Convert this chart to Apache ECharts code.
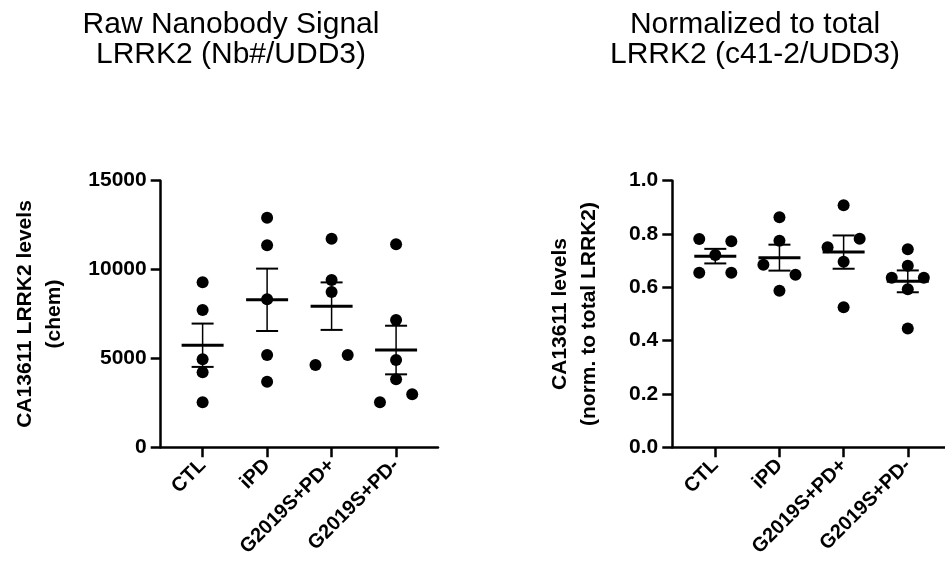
<!DOCTYPE html>
<html>
<head>
<meta charset="utf-8">
<script src="https://cdn.jsdelivr.net/npm/echarts@6/dist/echarts.min.js"></script>
<style>
  html, body { margin: 0; padding: 0; background: #fff; }
  #main { width: 945px; height: 568px; }
</style>
</head>
<body>
<div id="main"></div>
<script>
// groups on the x axis
const categories = ['CTL', 'iPD', 'G2019S+PD+', 'G2019S+PD-'];

// raw nanobody signal, one array per group
const rawCTL = [9283, 7725, 4951, 4220, 2532];
const rawIPD = [12917, 11365, 8326, 5193, 3691];
const rawGSPos = [11736, 9412, 8737, 5193, 4630];
const rawGSNeg = [11421, 7162, 4912, 3826, 2982, 2532];
// horizontal scatter of the dots (in category units)
const rawSpread = [[0, 0, 0, 0, 0], [0, 0, 0, 0, 0], [0, 0, 0, 0.25, -0.25], [0, 0, 0, 0, 0.25, -0.25]];

// normalized to total LRRK2
const normCTL = [0.781, 0.773, 0.721, 0.655, 0.655];
const normIPD = [0.863, 0.775, 0.685, 0.647, 0.587];
const normGSPos = [0.908, 0.782, 0.750, 0.696, 0.525];
const normGSNeg = [0.743, 0.681, 0.636, 0.636, 0.593, 0.446];
const normSpread = [[-0.25, 0.25, 0, -0.25, 0.25], [0, 0, -0.25, 0.25, 0], [0, 0.25, -0.25, 0, 0], [0, 0, -0.25, 0.25, 0, 0]];

const rawTicks = [0, 5000, 10000, 15000];
const normTicks = [0, 0.2, 0.4, 0.6, 0.8, 1.0];

const rawGroups = [rawCTL, rawIPD, rawGSPos, rawGSNeg];
const normGroups = [normCTL, normIPD, normGSPos, normGSNeg];

function meanSem(arr) {
  const n = arr.length;
  const m = arr.reduce((a, b) => a + b, 0) / n;
  const sd = Math.sqrt(arr.reduce((a, b) => a + (b - m) * (b - m), 0) / (n - 1));
  return [m, sd / Math.sqrt(n)];
}

function dots(groups, spread) {
  const out = [];
  groups.forEach((g, i) => g.forEach((v, j) => out.push([i + spread[i][j], v])));
  return out;
}

function summary(groups) {
  return groups.map((g, i) => {
    const ms = meanSem(g);
    return [i, ms[0], ms[1]];
  });
}

function renderBars(params, api) {
  const x = api.value(0), m = api.value(1), s = api.value(2);
  const c = api.coord([x, m]);
  const t = api.coord([x, m + s]);
  const b = api.coord([x, m - s]);
  return {
    type: 'group',
    children: [
      { type: 'line', shape: { x1: c[0], y1: t[1], x2: c[0], y2: b[1] }, style: { stroke: '#000', lineWidth: 1.5 } },
      { type: 'line', shape: { x1: c[0] - 11, y1: t[1], x2: c[0] + 11, y2: t[1] }, style: { stroke: '#000', lineWidth: 2 } },
      { type: 'line', shape: { x1: c[0] - 11, y1: b[1], x2: c[0] + 11, y2: b[1] }, style: { stroke: '#000', lineWidth: 2 } },
      { type: 'line', shape: { x1: c[0] - 21, y1: c[1], x2: c[0] + 21, y2: c[1] }, style: { stroke: '#000', lineWidth: 3 } }
    ]
  };
}

const font = 'Liberation Sans, Arial, sans-serif';
const axisLineStyle = { color: '#000', width: 2.5 };

function xAxisFor(gridIndex, min, max) {
  return {
    type: 'value', gridIndex: gridIndex, min: min, max: max,
    splitLine: { show: false },
    axisLine: { onZero: false, lineStyle: axisLineStyle },
    axisTick: { length: 10, lineStyle: axisLineStyle, customValues: [0, 1, 2, 3] },
    axisLabel: {
      customValues: [0, 1, 2, 3], rotate: 45, margin: 15,
      formatter: v => categories[Math.round(v)],
      color: '#000', fontWeight: 'bold', fontSize: 20, fontFamily: font
    }
  };
}

function yAxisFor(gridIndex, ticks, name, gap, fmt) {
  return {
    type: 'value', gridIndex: gridIndex,
    min: ticks[0], max: ticks[ticks.length - 1], interval: ticks[1] - ticks[0],
    name: name, nameLocation: 'middle', nameRotate: 90, nameGap: gap,
    nameTextStyle: { color: '#000', fontWeight: 'bold', fontSize: 21, fontFamily: font, lineHeight: 29 },
    splitLine: { show: false },
    axisLine: { show: true, onZero: false, lineStyle: axisLineStyle },
    axisTick: { show: true, length: 10, lineStyle: axisLineStyle },
    axisLabel: { margin: 14, color: '#000', fontWeight: 'bold', fontSize: 21, fontFamily: font, formatter: fmt }
  };
}

const titleStyle = { color: '#000', fontWeight: 'normal', fontSize: 30, fontFamily: font, lineHeight: 30 };

const option = {
  backgroundColor: '#fff',
  animation: false,
  title: [
    { text: 'Raw Nanobody Signal\nLRRK2 (Nb#/UDD3)', left: 226, top: 5, textAlign: 'center', textStyle: titleStyle },
    { text: 'Normalized to total\nLRRK2 (c41-2/UDD3)', left: 750, top: 5, textAlign: 'center', textStyle: titleStyle }
  ],
  grid: [
    { left: 160.7, top: 180.7, width: 277.3, height: 266.6 },
    { left: 672.3, top: 180.7, width: 272.7, height: 266.6 }
  ],
  xAxis: [xAxisFor(0, -0.65, 3.65), xAxisFor(1, -0.67, 3.58)],
  yAxis: [
    yAxisFor(0, rawTicks, 'CA13611 LRRK2 levels\n(chem)', 92, v => String(v)),
    yAxisFor(1, normTicks, 'CA13611 levels\n(norm. to total LRRK2)', 69, v => v.toFixed(1))
  ],
  series: [
    { type: 'scatter', xAxisIndex: 0, yAxisIndex: 0, data: dots(rawGroups, rawSpread), symbolSize: 12, itemStyle: { color: '#000', opacity: 1 } },
    { type: 'custom', xAxisIndex: 0, yAxisIndex: 0, data: summary(rawGroups), renderItem: renderBars, z: 3 },
    { type: 'scatter', xAxisIndex: 1, yAxisIndex: 1, data: dots(normGroups, normSpread), symbolSize: 12, itemStyle: { color: '#000', opacity: 1 } },
    { type: 'custom', xAxisIndex: 1, yAxisIndex: 1, data: summary(normGroups), renderItem: renderBars, z: 3 }
  ]
};

const chart = echarts.init(document.getElementById('main'));
chart.setOption(option);
</script>
</body>
</html>
